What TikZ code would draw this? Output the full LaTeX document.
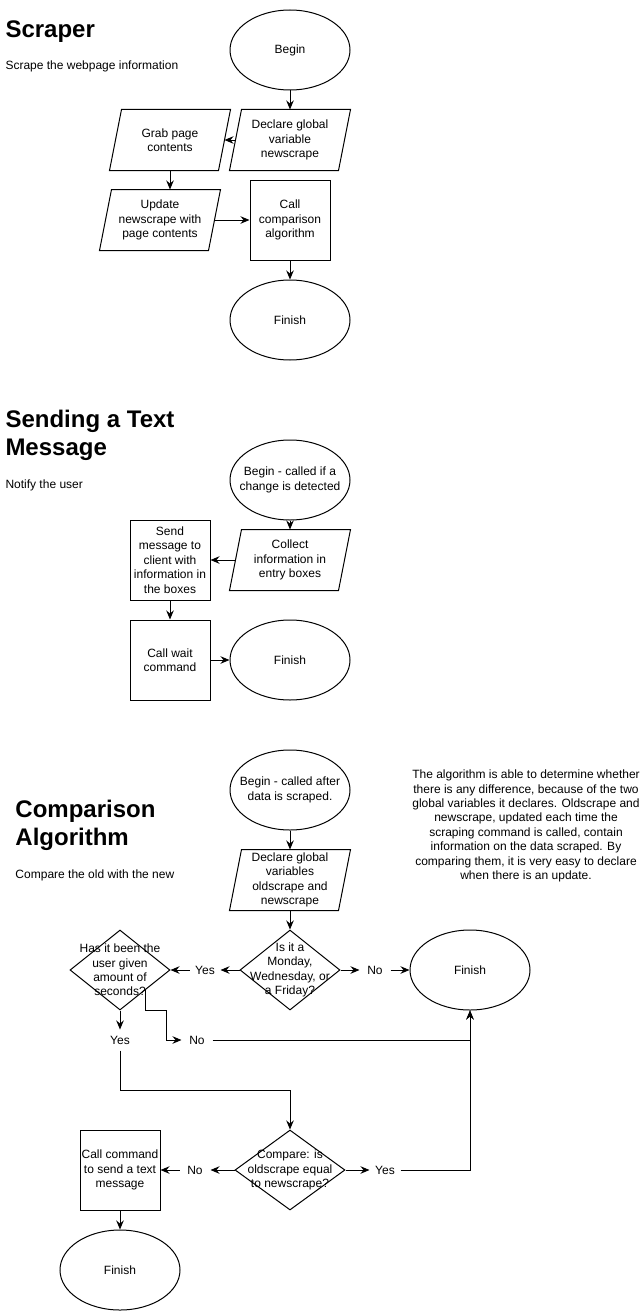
\documentclass[tikz,border=0pt]{standalone}
\usepackage{fontspec}
\setmainfont{Liberation Sans}
\usetikzlibrary{shapes.geometric,arrows.meta}

\begin{document}
\begin{tikzpicture}[
x=1pt, y=-1pt,
line width=1pt,
every node/.style={font=\fontsize{12}{14.4}\selectfont},
every label/.style={align=center, inner sep=0pt},
term/.style={
  draw,
  ellipse,
  minimum width=120pt,
  minimum height=80pt,
  inner sep=0pt
  },
io/.style={
  rectangle,
  minimum width=108pt,
  minimum height=60pt,
  inner sep=0pt,
  align=center
  },
proc/.style={
  draw,
  rectangle,
  minimum width=80pt,
  minimum height=80pt,
  inner sep=1pt,
  align=center
  },
dec/.style={
  draw,
  diamond,
  minimum width=100pt,
  minimum height=80pt,
  inner sep=0pt
  },
tag/.style={minimum width=30pt, minimum height=20pt, inner sep=0pt},
head/.style={font=\fontsize{24}{28}\selectfont\bfseries, align=left, inner sep=0pt},
desc/.style={inner sep=0pt},
>={Stealth[length=9pt,width=7.5pt,inset=3pt]}
]
\useasboundingbox (0,0) rectangle (641,1311);

% Scraper
\node[head, anchor=base west] (scrTitle) at (5,38) {Scraper};
\node[desc, anchor=west] (scrDesc) at (5,66) {Scrape the webpage information};
\node[term, label={center:Begin}] (scrBegin) at (290,50) {};
\node[io] (scrDecl) at (290,140) {Declare global\\variable\\newscrape};
\node[io] (scrGrab) at (170,140) {Grab page\\contents};
\node[io] (scrUpd) at (160,220) {Update\\newscrape with\\page contents};
\node[proc] (scrCall) at (290,220) {Call\\comparison\\algorithm};
\node[term, label={center:Finish}] (scrFin) at (290,320) {};
\foreach \a/\b in {scrBegin/scrDecl,scrDecl/scrGrab,scrUpd/scrCall,scrCall/scrFin}
  \draw[->] (\a) -- (\b);
\draw[->] (scrGrab.south) -- (scrGrab.south |- scrUpd.north);

% Sending a Text Message
\node[head, anchor=base west] (sndTitle) at (5,455) {Sending a Text\\Message};
\node[desc, anchor=west] (sndDesc) at (5,485) {Notify the user};
\node[term, label={center:{Begin - called if a\\change is detected}}] (sndBegin) at (290,480) {};
\node[io] (sndColl) at (290,560) {Collect\\information in\\entry boxes};
\node[proc] (sndSend) at (170,560) {Send\\message to\\client with\\information in\\the boxes};
\node[proc] (sndWait) at (170,660) {Call wait\\command};
\node[term, label={center:Finish}] (sndFin) at (290,660) {};
\foreach \a/\b in {sndBegin/sndColl,sndColl/sndSend,sndSend/sndWait,sndWait/sndFin}
  \draw[->] (\a) -- (\b);

% Comparison Algorithm
\node[head, anchor=base west] (cmpTitle) at (15,845) {Comparison\\Algorithm};
\node[desc, anchor=west] (cmpDesc) at (15,875) {Compare the old with the new};
\node[align=center, inner sep=0pt] (cmpNote) at (526,826) {The algorithm is able to determine whether\\there is any difference, because of the two\\global variables it declares. Oldscrape and\\newscrape, updated each time the\\scraping command is called, contain\\information on the data scraped. By\\comparing them, it is very easy to declare\\when there is an update.};
\node[term, label={center:{Begin - called after\\data is scraped.}}] (cmpBegin) at (290,790) {};
\node[io] (cmpDecl) at (290,880) {Declare global\\variables\\oldscrape and\\newscrape};
\node[dec, label={center:{Is it a\\Monday,\\Wednesday, or\\a Friday?}}] (cmpDay) at (290,970) {};
\node[dec, label={center:{Has it been the\\user given\\amount of\\seconds?}}] (cmpWait) at (120,970) {};
\node[term, label={center:Finish}] (cmpFin1) at (470,970) {};
\node[dec, minimum width=110pt, label={center:{Compare: is\\oldscrape equal\\to newscrape?}}] (cmpEq) at (290,1170) {};
\node[proc] (cmpSend) at (120,1170) {Call command\\to send a text\\message};
\node[term, label={center:Finish}] (cmpFin2) at (120,1270) {};
% branch labels
\node[tag] (yes1) at (205,970) {Yes};
\node[tag] (no1) at (375,970) {No};
\node[tag] (yes2) at (120,1040) {Yes};
\node[tag] (no2) at (197,1040) {No};
\node[tag] (no3) at (195,1170) {No};
\node[tag] (yes3) at (385,1170) {Yes};
\coordinate (cmpJoin) at (290,1090);
\foreach \a/\b in {cmpBegin/cmpDecl,cmpDecl/cmpDay,cmpDay/yes1,yes1/cmpWait,cmpDay/no1,no1/cmpFin1,
  cmpWait/yes2,cmpEq/no3,no3/cmpSend,cmpEq/yes3,cmpSend/cmpFin2}
  \draw[->] (\a) -- (\b);
\draw[->] (yes2) |- (cmpJoin) -- (cmpEq);
\draw[->] (cmpWait.south east) -- ++(0,20) -- ++(21,0) |- (no2);
\draw[->] (no2) -| (cmpFin1);
\draw[->] (yes3) -| (cmpFin1);

% slanted outlines of the input/output boxes
\foreach \n in {scrDecl,scrGrab,scrUpd,sndColl,cmpDecl}
  \draw ([xshift=-6pt]\n.south west) -- ([xshift=-6pt]\n.south east)
    -- ([xshift=6pt]\n.north east) -- ([xshift=6pt]\n.north west) -- cycle;
\end{tikzpicture}
\end{document}
